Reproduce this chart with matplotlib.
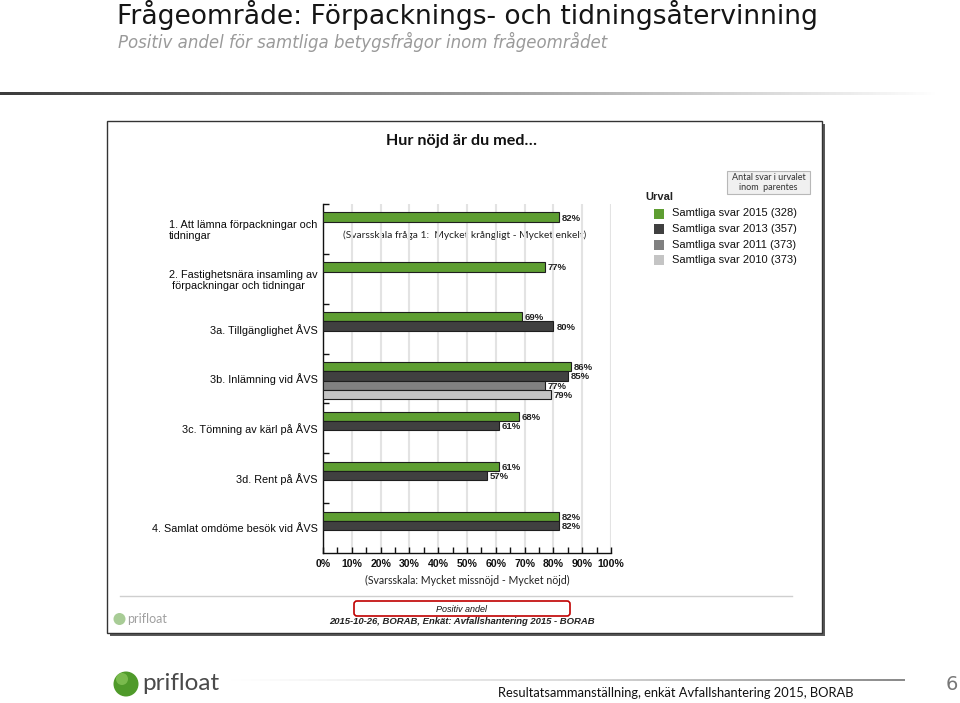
import numpy as np
import matplotlib
matplotlib.use("Agg")
import matplotlib.pyplot as plt
from matplotlib.patches import Rectangle, FancyBboxPatch, Circle

# ---------------- data ----------------
categories = [
    "1. Att lämna förpackningar och\ntidningar",
    "2. Fastighetsnära insamling av\n förpackningar och tidningar",
    "3a. Tillgänglighet ÅVS",
    "3b. Inlämning vid ÅVS",
    "3c. Tömning av kärl på ÅVS",
    "3d. Rent på ÅVS",
    "4. Samlat omdöme besök vid ÅVS",
]
series_names = [
    "Samtliga svar 2015 (328)",
    "Samtliga svar 2013 (357)",
    "Samtliga svar 2011 (373)",
    "Samtliga svar 2010 (373)",
]
values_2015 = [82, 77, 69, 86, 68, 61, 82]
values_2013 = [np.nan, np.nan, 80, 85, 61, 57, 82]
values_2011 = [np.nan, np.nan, np.nan, 77, np.nan, np.nan, np.nan]
values_2010 = [np.nan, np.nan, np.nan, 79, np.nan, np.nan, np.nan]
series_values = [values_2015, values_2013, values_2011, values_2010]
series_colors = ["#5e9e32", "#404040", "#808080", "#c4c4c4"]
x_ticks = list(range(0, 101, 10))
x_tick_labels = [f"{t}%" for t in x_ticks]

W, H = 960, 703
fig = plt.figure(figsize=(W / 100, H / 100), dpi=100)
fig.patch.set_facecolor("white")

# overlay in pixel coordinates for page decoration
ov = fig.add_axes([0, 0, 1, 1], zorder=0)
ov.set_xlim(0, W)
ov.set_ylim(H, 0)
ov.axis("off")

# page title
ov.text(117, 24.5, "Frågeområde: Förpacknings- och tidningsåtervinning",
        fontsize=19.1, family="DejaVu Sans", color="#151515", va="baseline")
ov.text(118, 47.5, "Positiv andel för samtliga betygsfrågor inom frågeområdet",
        fontsize=12.0, family="DejaVu Sans", fontstyle="oblique",
        color="#9a9a9a", va="baseline")

# top gradient line
grad = np.linspace(0, 1, 256)[None, :]
ov.imshow(grad, cmap=matplotlib.colors.LinearSegmentedColormap.from_list(
    "g1", ["#3c3c3c", "#9a9a9a", "#ffffff"]), extent=(0, 940, 95, 92),
    aspect="auto", zorder=1)
ov.set_xlim(0, W)
ov.set_ylim(H, 0)

# panel with shadow
ov.add_patch(Rectangle((110, 124), 715, 512, facecolor="#5a5a5a", edgecolor="none", zorder=1))
ov.add_patch(Rectangle((107, 121), 715, 512, facecolor="white", edgecolor="#333333",
                       linewidth=1, zorder=2))
ov.text(462, 141, "Hur nöjd är du med…", fontsize=11.6, family="Lato", fontweight="bold",
        color="#111", ha="center", va="center", zorder=3)

# legend
ov.text(645, 197, "Urval", fontsize=8, family="Liberation Sans", fontweight="bold",
        color="#222", va="center", zorder=3)
for k, (name, col) in enumerate(zip(series_names, series_colors)):
    yc = 213.5 + k * 15.6
    ov.add_patch(Rectangle((654, yc - 5), 10, 10, facecolor=col, edgecolor="none", zorder=3))
    ov.text(672, yc, name, fontsize=8, family="Liberation Sans", color="#111",
            va="center", zorder=3)
ov.add_patch(Rectangle((727, 171), 83, 23, facecolor="#f0f0f0", edgecolor="#b8b8b8",
                       linewidth=0.8, zorder=3))
ov.text(768.5, 182.5, "Antal svar i urvalet\ninom  parentes", fontsize=6.5, family="Lato",
        color="#333", ha="center", va="center", linespacing=1.2, zorder=4)

ov.text(465, 235, "(Svarsskala fråga 1:  Mycket krångligt - Mycket enkelt)", fontsize=7.4,
        family="Lato", color="#222", ha="center", va="center", zorder=3)
ov.text(467, 580, "(Svarsskala: Mycket missnöjd - Mycket nöjd)", fontsize=7.6,
        family="Lato", color="#222", ha="center", va="center", zorder=3)

# inner separator and footer inside panel
ov.plot([120, 792], [596, 596], color="#cfcfcf", lw=1, zorder=3)
ov.add_patch(FancyBboxPatch((354, 601), 216, 15, boxstyle="round,pad=0,rounding_size=3",
                            facecolor="none", edgecolor="#c00000", linewidth=1.2, zorder=3))
ov.text(462, 609, "Positiv andel", fontsize=6.5, family="Liberation Sans",
        fontstyle="italic", color="#111", ha="center", va="center", zorder=4)
ov.text(462, 622, "2015-10-26, BORAB, Enkät: Avfallshantering 2015 - BORAB", fontsize=6.8,
        family="Liberation Sans", fontstyle="italic", fontweight="bold", color="#222",
        ha="center", va="center", zorder=4)
ov.add_patch(Circle((119.5, 619), 6, facecolor="#a8cc96", edgecolor="none", zorder=3))
ov.text(127, 619, "prifloat", fontsize=9, family="Lato", color="#a0a0a0",
        va="center", zorder=3)

# page footer
ov.imshow(grad, cmap=matplotlib.colors.LinearSegmentedColormap.from_list(
    "g2", ["#ffffff", "#dcdcdc", "#8a8a8a"]), extent=(230, 905, 681, 679),
    aspect="auto", zorder=1)
ov.set_xlim(0, W)
ov.set_ylim(H, 0)
ov.add_patch(Circle((126, 684), 12.5, facecolor="#4f9a2a", edgecolor="none", zorder=3))
ov.add_patch(Circle((122, 679), 6, facecolor="#8cc95c", edgecolor="none", alpha=0.7, zorder=3))
ov.text(142, 684, "prifloat", fontsize=17.5, family="Lato", color="#4a4a4a",
        va="center", zorder=3)
ov.text(676, 693, "Resultatsammanställning, enkät Avfallshantering 2015, BORAB",
        fontsize=9.25, family="Lato", color="#111", ha="center", va="center")
ov.text(958, 684, "6", fontsize=14, family="DejaVu Sans", color="#777",
        ha="right", va="center")

# ---------------- chart axes ----------------
ax_left, ax_right, ax_top, ax_bot = 323, 611, 204, 553
ax = fig.add_axes([ax_left / W, 1 - ax_bot / H, (ax_right - ax_left) / W,
                   (ax_bot - ax_top) / H], zorder=2)
ax.set_facecolor("none")
ax.set_xlim(0, 100)
ax.set_ylim(len(categories), 0)

bar_h = 0.186
offset = 0.17
for j, (vals, col) in enumerate(zip(series_values, series_colors)):
    for i, v in enumerate(vals):
        if np.isnan(v):
            continue
        yc = i + offset + bar_h * j + bar_h / 2
        ax.barh(yc, v, height=bar_h, color=col, edgecolor="#1e1e1e", linewidth=0.8,
                zorder=3)
        ax.text(v + 1.0, yc + 0.02, f"{v:.0f}%", fontsize=6.8, family="Liberation Sans",
                fontweight="bold", color="#222", ha="left", va="center", zorder=4)

ax.set_xticks(x_ticks)
ax.set_xticklabels(x_tick_labels, fontsize=7.6, family="Liberation Sans",
                   fontweight="bold", color="#111")
ax.set_xticks(np.arange(5, 100, 10), minor=True)
ax.tick_params(axis="x", which="both", direction="in", length=4, width=1, color="#111",
               pad=4)
ax.grid(axis="x", color="#e3e3e3", linewidth=1.5, zorder=0)

ax.set_yticks(np.arange(len(categories)) + 0.5)
ax.set_yticklabels(categories, fontsize=7.8, family="Liberation Sans", color="#0a0a0a",
                   linespacing=1.15)
for lbl in ax.get_yticklabels():
    lbl.set_multialignment("left")
ax.set_yticks(np.arange(0, len(categories)), minor=True)
ax.tick_params(axis="y", which="major", length=0, pad=4)
ax.tick_params(axis="y", which="minor", direction="in", length=4, width=1, color="#111")

for s in ["top", "right"]:
    ax.spines[s].set_visible(False)
for s in ["left", "bottom"]:
    ax.spines[s].set_color("#111")
    ax.spines[s].set_linewidth(1)

fig.savefig("out.png", dpi=100, facecolor="white")
